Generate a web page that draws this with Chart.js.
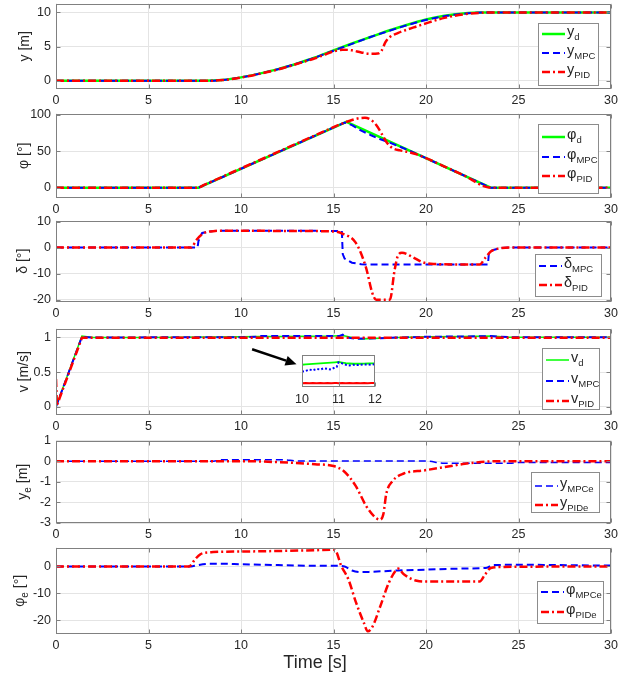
<!DOCTYPE html>
<html lang="en">
<head>
<meta charset="UTF-8">
<title>MPC vs PID path tracking</title>
<script src="https://cdn.jsdelivr.net/npm/chart.js"></script>
<style>
    body { margin: 0; background: #fff; }
    #fig { position: relative; width: 632px; height: 680px; overflow: hidden; }
    #fig canvas { position: absolute; left: 0; }
</style>
</head>
<body>
<div id="fig"></div>
<script>
// ---- data ----
const xTicks = [0, 5, 10, 15, 20, 25, 30];

// y [m]
const tYd   = [0, 8, 9, 10, 11, 12, 13, 14, 15, 16, 17, 18, 19, 20, 21, 22, 23, 24, 30];
const yD    = [0, 0, 0.12, 0.5, 1.05, 1.7, 2.5, 3.4, 4.45, 5.45, 6.4, 7.35, 8.2, 8.95, 9.5, 9.85, 10, 10, 10];
const yMpc  = [0, 0, 0.11, 0.49, 1.04, 1.7, 2.5, 3.4, 4.4, 5.4, 6.4, 7.3, 8.15, 8.9, 9.45, 9.8, 9.98, 10, 10];
const tYpid = [0, 8, 9, 10, 11, 12, 13, 14, 14.5, 15, 15.5, 16, 16.5, 17, 17.4, 17.6, 17.8, 18, 18.5, 19, 19.5, 20, 21, 22, 23, 24, 30];
const yPid  = [0, 0, 0.1, 0.48, 1.02, 1.65, 2.45, 3.3, 3.8, 4.3, 4.55, 4.45, 4.15, 3.95, 3.98, 4.4, 5.6, 6.3, 7.0, 7.5, 7.95, 8.4, 9.2, 9.7, 9.95, 10, 10];
const yTicks1 = [0, 5, 10];

// phi [deg]
const tPhiD   = [0, 7.7, 15.7, 23.5, 30];
const phiD    = [0, 0, 90, 0, 0];
const tPhiMpc = [0, 7.7, 15.6, 16, 16.5, 17, 17.5, 18, 19, 23.5, 24, 30];
const phiMpc  = [0, 0, 89, 85.5, 78, 72, 66.5, 62, 51.9, 0, 0, 0];
const tPhiPid = [0, 7.65, 8, 10, 12, 14, 15.5, 16, 16.4, 16.7, 17, 17.3, 17.6, 17.9, 18.2, 18.6, 19, 19.5, 20, 21, 22, 23.4, 24, 30];
const phiPid  = [0, 0, 3.9, 26.4, 48.9, 71.4, 88, 92.5, 95, 95.5, 93, 86, 74, 61, 54, 51, 49, 45.5, 40.5, 29, 17.5, 0.5, 0, 0];
const yTicks2 = [0, 50, 100];

// delta [deg]
const tDelMpc = [0, 7.65, 7.7, 7.9, 8.5, 10, 15, 15.45, 15.5, 15.6, 16, 16.5, 17, 23.35, 23.4, 23.6, 24, 24.5, 30];
const delMpc  = [0, 0, 2.5, 5.6, 6.4, 6.5, 6.4, 6.4, -2.5, -4.2, -5.8, -6.4, -6.5, -6.5, -2, -1, -0.2, 0, 0];
const tDelPid = [0, 7.3, 7.6, 8, 8.5, 9, 12, 15, 15.5, 16.2, 16.75, 17.1, 17.3, 18.05, 18.3, 18.5, 18.7, 19.3, 19.8, 20.4, 22.9, 23.2, 23.5, 23.9, 24.5, 30];
const delPid  = [0, 0, 3, 5.6, 6.3, 6.5, 6.4, 6.2, 5.3, 1.9, -7.5, -17.5, -20, -20, -8.75, -2.8, -2.0, -3.75, -5.6, -6.3, -6.5, -4, -1.5, -0.4, 0, 0];
const yTicks3 = [-20, -10, 0, 10];

// v [m/s]
const tVd   = [0, 1.4, 2, 5, 10, 11, 12, 15, 15.5, 16, 16.5, 17.5, 18.5, 20, 22, 23.5, 24.5, 30];
const vD    = [0, 1.02, 1.0, 1.0, 1.01, 1.015, 1.015, 1.02, 1.03, 1.0, 0.98, 0.99, 1.0, 1.01, 1.015, 1.02, 1.005, 1.005];
const tVmpc = [0, 1.4, 2, 10, 11, 11.1, 15.3, 15.5, 15.7, 16.2, 17.5, 18.5, 20, 22, 23.5, 24.5, 30];
const vMpc  = [0, 1.01, 1.0, 1.005, 1.01, 1.02, 1.02, 1.04, 1.0, 0.98, 0.99, 1.0, 1.01, 1.015, 1.02, 1.005, 1.005];
const tVpid = [0, 0.05, 1.4, 30];
const vPid  = [0.4, 0.02, 0.995, 0.995];
const yTicks4 = [0, 0.5, 1];

// v inset, 10..12 s
const tIn     = [10, 10.1, 10.2, 10.3, 10.4, 10.5, 10.6, 10.7, 10.8, 10.9, 10.95, 11, 11.1, 11.2, 11.3, 11.4, 11.5, 11.6, 11.7, 11.8, 11.9, 12];
const vDIn    = [1.0186, 1.019, 1.0194, 1.0198, 1.0201, 1.0205, 1.0208, 1.0212, 1.0216, 1.022, 1.0222, 1.0224, 1.0215, 1.0207, 1.0203, 1.02, 1.02, 1.02, 1.0202, 1.0203, 1.0204, 1.0205];
const vMpcIn  = [1.009, 1.010, 1.012, 1.011, 1.0129, 1.012, 1.0138, 1.0129, 1.012, 1.0148, 1.0157, 1.0219, 1.0205, 1.0186, 1.0176, 1.0186, 1.0181, 1.0186, 1.019, 1.019, 1.0186, 1.0195];
const vPidIn  = [0.9933, 0.9936, 0.9931, 0.9935, 0.9932, 0.9936, 0.9933, 0.9935, 0.9931, 0.9934, 0.9935, 0.9933, 0.9936, 0.9932, 0.9935, 0.9933, 0.9936, 0.9932, 0.9935, 0.9933, 0.9934, 0.9936];
const xTicksIn = [10, 11, 12];

// y_e [m]
const tYeMpc = [0, 8.5, 9, 12.3, 13, 20, 21, 24.5, 25, 30];
const yeMpc  = [0, 0, 0.07, 0.07, 0.01, 0, -0.1, -0.1, -0.07, -0.07];
const tYePid = [0, 10, 12, 14, 15, 15.55, 16.2, 16.75, 17.2, 17.5, 17.7, 17.85, 18.2, 18.8, 19.9, 21, 22.1, 23.2, 24, 30];
const yePid  = [0, 0, -0.05, -0.15, -0.24, -0.48, -1.2, -2.15, -2.68, -2.84, -2.55, -1.6, -0.96, -0.6, -0.45, -0.29, -0.13, -0.03, 0, 0];
const yTicks5 = [-3, -2, -1, 0, 1];

// phi_e [deg]
const tPeMpc = [0, 7.3, 7.6, 8.2, 9, 10, 12, 14, 15.3, 15.6, 16, 16.5, 17, 18.5, 20, 22, 23.3, 23.6, 25, 30];
const peMpc  = [0, 0, 0.4, 0.95, 1.0, 0.8, 0.5, 0.25, 0.2, 0, -1.5, -2.1, -2.0, -1.5, -1.2, -0.8, -0.5, 0.5, 0.6, 0.3];
const tPePid = [0, 7.2, 7.5, 7.8, 8.5, 10, 14, 15, 15.15, 15.4, 15.8, 16.2, 16.65, 16.85, 17.1, 17.5, 18, 18.4, 18.5, 18.8, 19.5, 20.1, 22.9, 23.2, 23.5, 24.1, 30];
const pePid  = [0, 0, 2.5, 4.5, 5.3, 5.5, 6.0, 6.2, 5.5, 0.5, -4.7, -13, -21, -24, -22.4, -15.3, -5.9, -1.2, -0.8, -2.9, -5.3, -5.6, -5.6, -2.9, -0.6, -0.2, 0];
const yTicks6 = [-20, -10, 0];

// ---- layout / style ----
const FONT = '"Liberation Sans", Arial, Helvetica, sans-serif';
const TXT = '#262626', GRID = '#e4e4e4', FRAME = '#808080';
const PAD_TOP = 12, X_AXIS_H = 22, PLOT_L = 56, PLOT_R = 611, W = 632;

const LINE = {
    d:   { borderColor: '#00ff00', borderWidth: 2.5, borderDash: [] },
    mpc: { borderColor: '#0000ff', borderWidth: 2, borderDash: [7, 4] },
    pid: { borderColor: '#ff0000', borderWidth: 2.5, borderDash: [8, 3, 2, 3] }
};

function pts(t, v) { return t.map((x, i) => ({ x: x, y: v[i] })); }

function series(label, kind, t, v, smooth, extra) {
    return Object.assign({
        label: label, data: pts(t, v), pointRadius: 0, fill: false,
        order: kind === 'pid' ? 0 : (kind === 'mpc' ? 1 : 2),
        cubicInterpolationMode: smooth ? 'monotone' : 'default', tension: 0
    }, LINE[kind], extra || {});
}

// label "y_MPC [m]" -> main / subscript / rest
function parseLabel(s) {
    const i = s.indexOf('_');
    if (i < 0) return [s, '', ''];
    const rest = s.slice(i + 1), j = rest.indexOf(' ');
    return j < 0 ? [s.slice(0, i), rest, ''] : [s.slice(0, i), rest.slice(0, j), rest.slice(j)];
}
function drawRich(ctx, s, x, y, size, sub, measureOnly) {
    const p = parseLabel(s), x0 = x;
    ctx.textBaseline = 'middle'; ctx.textAlign = 'left'; ctx.fillStyle = TXT;
    ctx.font = size + 'px ' + FONT;
    if (!measureOnly) ctx.fillText(p[0], x, y);
    x += ctx.measureText(p[0]).width;
    if (p[1]) {
        ctx.font = sub + 'px ' + FONT;
        if (!measureOnly) ctx.fillText(p[1], x, y + size * 0.38);
        x += ctx.measureText(p[1]).width;
    }
    if (p[2]) {
        ctx.font = size + 'px ' + FONT;
        if (!measureOnly) ctx.fillText(p[2], x, y);
        x += ctx.measureText(p[2]).width;
    }
    return x - x0;
}

const panels = [
    { id: 'p1', top: 3,   bottom: 89,  min: -1.2,  max: 11.3,  ticks: yTicks1, ylabel: 'y [m]', labelX: 25,
      legend: { left: 538, top: 23, w: 61, h: 63, rows: [34, 53, 72] },
      datasets: [series('y_d', 'd', tYd, yD, true), series('y_MPC', 'mpc', tYd, yMpc, true), series('y_PID', 'pid', tYpid, yPid, true)] },
    { id: 'p2', top: 113, bottom: 198, min: -14,   max: 101.4, ticks: yTicks2, ylabel: 'φ [°]', labelX: 24,
      legend: { left: 538, top: 124, w: 61, h: 70, rows: [137, 157, 176] },
      datasets: [series('φ_d', 'd', tPhiD, phiD, false), series('φ_MPC', 'mpc', tPhiMpc, phiMpc, false), series('φ_PID', 'pid', tPhiPid, phiPid, true)] },
    { id: 'p3', top: 220, bottom: 302, min: -20.9, max: 10.4,  ticks: yTicks3, ylabel: 'δ [°]', labelX: 23,
      legend: { left: 535, top: 254, w: 67, h: 43, rows: [266, 285] },
      datasets: [series('δ_MPC', 'mpc', tDelMpc, delMpc, false), series('δ_PID', 'pid', tDelPid, delPid, true)] },
    { id: 'p4', top: 328, bottom: 415, min: -0.12, max: 1.13,  ticks: yTicks4, ylabel: 'v [m/s]', labelX: 24,
      legend: { left: 542, top: 348, w: 58, h: 62, rows: [360, 381, 401] },
      arrow: { from: [10.6, 0.83], to: [13.0, 0.615] },
      datasets: [series('v_d', 'd', tVd, vD, false, { borderWidth: 1.5 }), series('v_MPC', 'mpc', tVmpc, vMpc, false), series('v_PID', 'pid', tVpid, vPid, false)] },
    { id: 'p5', top: 440, bottom: 523, min: -3,    max: 1,     ticks: yTicks5, ylabel: 'y_e [m]', labelX: 23,
      legend: { left: 531, top: 472, w: 69, h: 41, rows: [486, 505] },
      datasets: [series('y_MPCe', 'mpc', tYeMpc, yeMpc, true, { borderWidth: 1.5 }), series('y_PIDe', 'pid', tYePid, yePid, true)] },
    { id: 'p6', top: 547, bottom: 634, min: -25,   max: 7,     ticks: yTicks6, ylabel: 'φ_e [°]', labelX: 20,
      legend: { left: 537, top: 581, w: 67, h: 43, rows: [592, 612] },
      xlabel: { text: 'Time [s]', x: 315, y: 663 },
      datasets: [series('φ_MPCe', 'mpc', tPeMpc, peMpc, true), series('φ_PIDe', 'pid', tPePid, pePid, true)] }
];

const panelById = {};
panels.forEach(p => { panelById[p.id] = p; });

// frame, inner tick marks, y label, legend box, arrow, x label
const decor = {
    id: 'decor',
    beforeDatasetsDraw(chart) {
        const p = panelById[chart.canvas.id];
        if (p && p.inset) {
            const a = chart.chartArea, ctx = chart.ctx;
            ctx.save(); ctx.fillStyle = '#fff';
            ctx.fillRect(a.left, a.top, a.right - a.left, a.bottom - a.top);
            ctx.strokeStyle = GRID; ctx.lineWidth = 1;
            ctx.beginPath();
            const x = Math.round(chart.scales.x.getPixelForValue(11)) + 0.5;
            ctx.moveTo(x, a.top); ctx.lineTo(x, a.bottom); ctx.stroke();
            ctx.restore();
        }
    },
    afterDatasetsDraw(chart) {
        const p = panelById[chart.canvas.id];
        if (!p) return;
        const ctx = chart.ctx, a = chart.chartArea, off = p.canvasTop;
        const xs = chart.scales.x, ys = chart.scales.y;
        ctx.save();
        // frame
        ctx.strokeStyle = FRAME; ctx.lineWidth = 1; ctx.setLineDash([]);
        const L = Math.round(a.left) + 0.5, R = Math.round(a.right) - 0.5;
        const T = Math.round(a.top) + 0.5, B = Math.round(a.bottom) - 0.5;
        ctx.strokeRect(L, T, R - L, B - T);
        ctx.beginPath();
        (p.xticks || xTicks).forEach(v => {
            const x = Math.round(xs.getPixelForValue(v)) + 0.5;
            ctx.moveTo(x, B); ctx.lineTo(x, B - 4);
            if (!p.inset) { ctx.moveTo(x, T); ctx.lineTo(x, T + 4); }
        });
        if (!p.inset) {
            p.ticks.forEach(v => {
                const y = Math.round(ys.getPixelForValue(v)) + 0.5;
                ctx.moveTo(L, y); ctx.lineTo(L + 4, y);
                ctx.moveTo(R, y); ctx.lineTo(R - 4, y);
            });
        }
        ctx.stroke();
        if (p.inset) { ctx.restore(); return; }

        // y label, rotated
        const cy = (a.top + a.bottom) / 2;
        ctx.save();
        ctx.translate(p.labelX, cy); ctx.rotate(-Math.PI / 2);
        const w = drawRich(ctx, p.ylabel, 0, 0, 14, 10, true);
        drawRich(ctx, p.ylabel, -w / 2, 0, 14, 10);
        ctx.restore();

        // legend
        const lg = p.legend;
        ctx.fillStyle = '#fff'; ctx.strokeStyle = '#8c8c8c'; ctx.lineWidth = 1;
        ctx.fillRect(lg.left, lg.top - off, lg.w, lg.h);
        ctx.strokeRect(lg.left + 0.5, lg.top - off + 0.5, lg.w - 1, lg.h - 1);
        chart.data.datasets.forEach((ds, i) => {
            const y = lg.rows[i] - off;
            ctx.strokeStyle = ds.borderColor; ctx.lineWidth = ds.borderWidth;
            ctx.setLineDash(ds.borderDash || []);
            ctx.beginPath(); ctx.moveTo(lg.left + 4, y); ctx.lineTo(lg.left + 27, y); ctx.stroke();
            ctx.setLineDash([]);
            drawRich(ctx, ds.label, lg.left + 29, y - 2, 14.5, 9.5);
        });

        // arrow pointing at the inset
        if (p.arrow) {
            const x1 = xs.getPixelForValue(p.arrow.from[0]), y1 = ys.getPixelForValue(p.arrow.from[1]);
            const x2 = xs.getPixelForValue(p.arrow.to[0]), y2 = ys.getPixelForValue(p.arrow.to[1]);
            const ang = Math.atan2(y2 - y1, x2 - x1), hl = 11, hw = 5;
            const bx = x2 - hl * Math.cos(ang), by = y2 - hl * Math.sin(ang);
            ctx.strokeStyle = '#000'; ctx.fillStyle = '#000'; ctx.lineWidth = 2.5;
            ctx.beginPath(); ctx.moveTo(x1, y1); ctx.lineTo(bx, by); ctx.stroke();
            ctx.beginPath();
            ctx.moveTo(x2, y2);
            ctx.lineTo(bx + hw * Math.sin(ang), by - hw * Math.cos(ang));
            ctx.lineTo(bx - hw * Math.sin(ang), by + hw * Math.cos(ang));
            ctx.closePath(); ctx.fill();
        }

        // x label
        if (p.xlabel) {
            ctx.font = '18px ' + FONT; ctx.fillStyle = TXT;
            ctx.textAlign = 'center'; ctx.textBaseline = 'middle';
            ctx.fillText(p.xlabel.text, p.xlabel.x, p.xlabel.y - off);
        }
        ctx.restore();
    }
};

function tickFont() { return { family: FONT, size: 12.5 }; }

function makeChart(p, opts) {
    const cv = document.createElement('canvas');
    cv.id = p.id;
    cv.width = opts.width; cv.height = opts.height;
    cv.style.left = opts.left + 'px'; cv.style.top = opts.top + 'px';
    cv.style.width = opts.width + 'px'; cv.style.height = opts.height + 'px';
    document.getElementById('fig').appendChild(cv);
    p.canvasTop = opts.top;
    return new Chart(cv.getContext('2d'), {
        type: 'line',
        data: { datasets: p.datasets },
        options: {
            responsive: false, animation: false, devicePixelRatio: 1,
            layout: { padding: opts.padding },
            plugins: { legend: { display: false }, tooltip: { enabled: false } },
            scales: {
                x: {
                    type: 'linear', min: opts.xmin, max: opts.xmax,
                    afterBuildTicks: s => { s.ticks = opts.xticks.map(v => ({ value: v })); },
                    afterFit: s => { s.height = opts.xAxisH; },
                    grid: { color: GRID, drawTicks: false, display: !p.inset },
                    border: { display: false },
                    ticks: { font: tickFont(), color: TXT, padding: opts.xPad, maxRotation: 0, autoSkip: false,
                             callback: v => String(v) }
                },
                y: {
                    display: !p.inset,
                    min: p.min, max: p.max,
                    afterBuildTicks: s => { s.ticks = p.ticks.map(v => ({ value: v })); },
                    afterFit: s => { s.width = p.inset ? 0 : PLOT_L; },
                    grid: { color: GRID, drawTicks: false },
                    border: { display: false },
                    ticks: { font: tickFont(), color: TXT, padding: 5, callback: v => String(v) }
                }
            }
        },
        plugins: [decor]
    });
}

panels.forEach(p => {
    const extra = p.xlabel ? 36 : 0;
    makeChart(p, {
        left: 0, top: p.top - PAD_TOP, width: W,
        height: p.bottom - p.top + PAD_TOP + X_AXIS_H + extra,
        padding: { top: PAD_TOP, right: W - PLOT_R, left: 0, bottom: extra },
        xmin: 0, xmax: 30, xticks: xTicks, xAxisH: X_AXIS_H, xPad: 4
    });
});

// zoomed view of v between 10 and 12 s
const inset = {
    id: 'pin', inset: true, min: 0.988, max: 1.032, ticks: [], xticks: xTicksIn,
    datasets: [
        series('v_d', 'd', tIn, vDIn, false, { borderWidth: 1.8 }),
        series('v_MPC', 'mpc', tIn, vMpcIn, false, { borderWidth: 2, borderDash: [2, 2] }),
        series('v_PID', 'pid', tIn, vPidIn, false, { borderWidth: 2, borderDash: [] })
    ]
};
panelById.pin = inset;
makeChart(inset, {
    left: 288, top: 349, width: 102, height: 64,
    padding: { top: 6, right: 15, left: 14, bottom: 0 },
    xmin: 10, xmax: 12, xticks: xTicksIn, xAxisH: 26, xPad: 5
});
</script>
</body>
</html>
